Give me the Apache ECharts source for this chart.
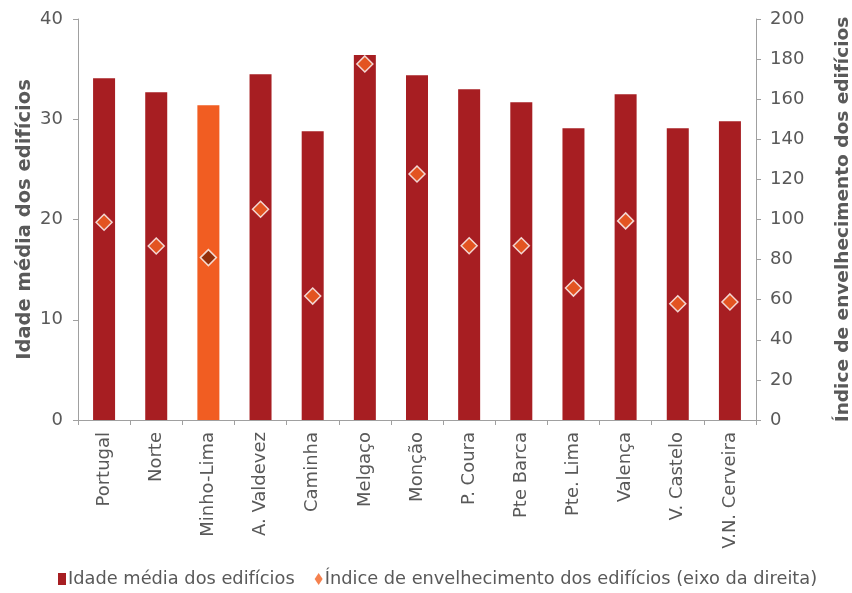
<!DOCTYPE html>
<html>
<head>
<meta charset="utf-8">
<script src="https://cdn.jsdelivr.net/npm/echarts@6/dist/echarts.min.js"></script>
<style>
  html, body { margin: 0; padding: 0; background: #ffffff; }
  #chart { width: 852px; height: 593px; }
</style>
</head>
<body>
<div id="chart"></div>
<script>
// Municipalities of the Minho-Lima sub-region, with Portugal and Norte for reference
const categories = ['Portugal', 'Norte', 'Minho-Lima', 'A. Valdevez', 'Caminha', 'Melgaço',
  'Monção', 'P. Coura', 'Pte Barca', 'Pte. Lima', 'Valença', 'V. Castelo', 'V.N. Cerveira'];

// Average age of buildings (years) – left axis
const idadeMedia = [34.1, 32.7, 31.4, 34.5, 28.8, 36.4, 34.4, 33.0, 31.7, 29.1, 32.5, 29.1, 29.8];

// Building ageing index – right axis
const indiceEnvelhecimento = [98.6, 86.8, 81.0, 105.1, 61.8, 177.6, 122.7, 86.9, 86.9, 65.8, 99.3, 58.0, 58.9];

const highlighted = 'Minho-Lima';

const leftTicks = { min: 0, max: 40, interval: 10 };
const rightTicks = { min: 0, max: 200, interval: 20 };

const textColor = '#595959';
const axisColor = '#A0A0A0';
const barColor = '#A71E22';
const barHighlight = '#F15D22';
const markColor = '#F26122';
const markHighlight = '#7B2608';
const font = 'DejaVu Sans';

const chart = echarts.init(document.getElementById('chart'), null, { renderer: 'canvas' });

chart.setOption({
  animation: false,
  backgroundColor: '#ffffff',
  textStyle: { fontFamily: font, color: textColor },
  grid: {
    left: 78, right: 96, top: 19, bottom: 173,
    containLabel: false,
    outerBoundsMode: 'none'
  },
  legend: {
    bottom: 0,
    left: 53,
    itemGap: 20,
    itemWidth: 8,
    itemHeight: 12,
    textStyle: { fontFamily: font, fontSize: 17.8, color: textColor, padding: [0, 0, 0, -3] },
    data: [
      { name: 'Idade média dos edifícios', icon: 'rect' },
      { name: 'Índice de envelhecimento dos edifícios (eixo da direita)', icon: 'diamond',
        itemStyle: { color: markColor, borderWidth: 0 } }
    ]
  },
  xAxis: {
    type: 'category',
    data: categories,
    axisLine: { lineStyle: { color: axisColor, width: 1 } },
    axisTick: { show: true, length: 5, lineStyle: { color: axisColor } },
    axisLabel: { rotate: 90, fontSize: 18, color: textColor, fontFamily: font, margin: 12 }
  },
  yAxis: [
    {
      type: 'value',
      min: leftTicks.min, max: leftTicks.max, interval: leftTicks.interval,
      name: 'Idade média dos edifícios',
      nameLocation: 'middle',
      nameMoveOverlap: false,
      nameGap: 43,
      nameTextStyle: { fontSize: 19.5, fontWeight: 'bold', color: textColor, fontFamily: font },
      axisLine: { show: true, lineStyle: { color: axisColor } },
      axisTick: { show: true, length: 5, lineStyle: { color: axisColor } },
      axisLabel: { fontSize: 18, color: textColor, fontFamily: font, margin: 15 },
      splitLine: { show: false }
    },
    {
      type: 'value',
      position: 'right',
      min: rightTicks.min, max: rightTicks.max, interval: rightTicks.interval,
      name: 'Índice de envelhecimento dos edifícios',
      nameLocation: 'middle',
      nameMoveOverlap: false,
      nameRotate: 90,
      nameGap: 78,
      nameTextStyle: { fontSize: 18.5, fontWeight: 'bold', color: textColor, fontFamily: font },
      axisLine: { show: true, lineStyle: { color: axisColor } },
      axisTick: { show: true, length: 5, lineStyle: { color: axisColor } },
      axisLabel: { fontSize: 18, color: textColor, fontFamily: font, margin: 14 },
      splitLine: { show: false }
    }
  ],
  series: [
    {
      name: 'Idade média dos edifícios',
      type: 'bar',
      yAxisIndex: 0,
      barWidth: 22,
      itemStyle: { color: barColor },
      data: idadeMedia.map((v, i) => ({
        value: v,
        itemStyle: { color: categories[i] === highlighted ? barHighlight : barColor }
      }))
    },
    {
      name: 'Índice de envelhecimento dos edifícios (eixo da direita)',
      type: 'scatter',
      yAxisIndex: 1,
      symbol: 'diamond',
      symbolSize: 16,
      itemStyle: { color: markColor, borderColor: '#ffffff', borderWidth: 1.5 },
      z: 3,
      data: indiceEnvelhecimento.map((v, i) => ({
        value: v,
        itemStyle: { color: categories[i] === highlighted ? markHighlight : markColor }
      }))
    }
  ]
});
</script>
</body>
</html>
